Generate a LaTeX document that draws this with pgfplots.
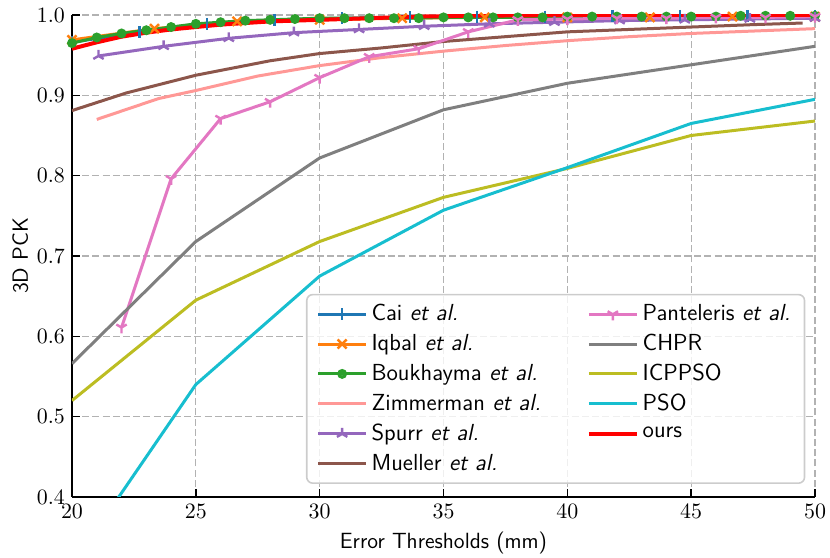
\documentclass[border=0pt]{standalone}
\usepackage{pgfplots}
\pgfplotsset{compat=1.18}
\definecolor{cCai}{HTML}{1F77B4}
\definecolor{cIqbal}{HTML}{FF7F0E}
\definecolor{cBouk}{HTML}{2CA02C}
\definecolor{cZimm}{HTML}{FF9896}
\definecolor{cSpurr}{HTML}{9467BD}
\definecolor{cMuel}{HTML}{8C564B}
\definecolor{cPant}{HTML}{E377C2}
\definecolor{cCHPR}{HTML}{7F7F7F}
\definecolor{cICP}{HTML}{BCBD22}
\definecolor{cPSO}{HTML}{17BECF}
\definecolor{cOurs}{HTML}{FF0000}
\pgfdeclareplotmark{triup}{%
  \pgfpathmoveto{\pgfpointorigin}\pgfpathlineto{\pgfpoint{0pt}{\pgfplotmarksize}}%
  \pgfpathmoveto{\pgfpointorigin}\pgfpathlineto{\pgfpoint{-0.866\pgfplotmarksize}{-0.5\pgfplotmarksize}}%
  \pgfpathmoveto{\pgfpointorigin}\pgfpathlineto{\pgfpoint{0.866\pgfplotmarksize}{-0.5\pgfplotmarksize}}%
  \pgfusepathqstroke}
\pgfdeclareplotmark{tridown}{%
  \pgfpathmoveto{\pgfpointorigin}\pgfpathlineto{\pgfpoint{0pt}{-\pgfplotmarksize}}%
  \pgfpathmoveto{\pgfpointorigin}\pgfpathlineto{\pgfpoint{-0.866\pgfplotmarksize}{0.5\pgfplotmarksize}}%
  \pgfpathmoveto{\pgfpointorigin}\pgfpathlineto{\pgfpoint{0.866\pgfplotmarksize}{0.5\pgfplotmarksize}}%
  \pgfusepathqstroke}
\pgfplotsset{
  sCai/.style={cCai, line width=1.5pt, mark=|, mark size=3pt, mark options={solid, line width=1.2pt}},
  sIqbal/.style={cIqbal, line width=1.5pt, mark=x, mark size=3.2pt, mark options={solid, line width=1.2pt}},
  sBouk/.style={cBouk, line width=1.5pt, mark=*, mark size=1.7pt, mark options={solid}},
  sZimm/.style={cZimm, line width=1.5pt, no marks},
  sSpurr/.style={cSpurr, line width=1.5pt, mark=triup, mark size=3pt, mark options={solid, line width=1.2pt}},
  sMuel/.style={cMuel, line width=1.5pt, no marks},
  sPant/.style={cPant, line width=1.5pt, mark=tridown, mark size=3pt, mark options={solid, line width=1.2pt}},
  sCHPR/.style={cCHPR, line width=1.5pt, no marks},
  sICP/.style={cICP, line width=1.5pt, no marks},
  sPSO/.style={cPSO, line width=1.5pt, no marks},
  sOurs/.style={cOurs, line width=2pt, no marks},
}
\begin{document}
\begin{tikzpicture}
\begin{axis}[
  scale only axis,
  width=371.5pt, height=241pt,
  xmin=20, xmax=50, ymin=0.4, ymax=1.0,
  xtick={20,25,30,35,40,45,50},
  ytick={0.4,0.5,0.6,0.7,0.8,0.9,1.0},
  yticklabel style={/pgf/number format/fixed, /pgf/number format/fixed zerofill, /pgf/number format/precision=1},
  tick label style={font=\fontsize{11}{13}\selectfont},
  label style={font=\fontsize{11}{13}\selectfont\sffamily},
  axis lines=left,
  axis line style={-, line width=0.9pt},
  every non boxed x axis/.append style={x axis line style=-},
  every non boxed y axis/.append style={y axis line style=-},
  tick align=inside,
  major tick length=4pt,
  tick style={black, line width=0.8pt},
  grid=major,
  major grid style={black!30, dash pattern=on 3.5pt off 1.6pt, line width=0.6pt},
  xlabel={Error Thresholds (mm)},
  ylabel={3D PCK},
  ylabel style={yshift=-2.5pt},
  legend columns=2,
  legend cell align=left,
  legend style={at={(0.987,0.027)}, anchor=south east, font=\fontsize{11.6}{13.5}\selectfont\sffamily,
    draw=black!20, line width=0.8pt, rounded corners=3pt, fill=white, fill opacity=0.8, text opacity=1,
    row sep=1.2pt, inner xsep=5pt, inner ysep=3pt,
    /tikz/every even column/.append style={column sep=21pt}},
  legend image code/.code={\draw[mark repeat=2,mark phase=2] plot coordinates {(0cm,0cm)(0.42cm,0cm)(0.84cm,0cm)};},
]
% Cai
\addplot[sCai, forget plot] coordinates {(20,0.966)(22.727,0.979)(25.455,0.989)(28.182,0.994)(30.909,0.996)(33.636,0.997)(36.364,0.998)(39.091,0.998)(41.818,0.999)(44.545,0.999)(47.273,0.999)(50,0.999)};
% Iqbal
\addplot[sIqbal, forget plot] coordinates {(20,0.969)(23.333,0.983)(26.667,0.992)(30,0.994)(33.333,0.996)(36.667,0.997)(40,0.997)(43.333,0.997)(46.667,0.998)(50,0.998)};
% Boukhayma
\addplot[sBouk, forget plot] coordinates {(20,0.965)(21,0.972)(22,0.977)(23,0.981)(24,0.985)(25,0.989)(26,0.991)(27,0.993)(28,0.994)(29,0.995)(30,0.996)(31,0.996)(32,0.996)(33,0.996)(34,0.996)(35,0.997)(36,0.997)(37,0.997)(38,0.997)(39,0.997)(40,0.998)(41,0.998)(42,0.998)(43,0.998)(44,0.998)(45,0.998)(46,0.998)(47,0.999)(48,0.999)(49,0.999)(50,0.999)};
% Zimmerman
\addplot[sZimm, forget plot] coordinates {(21,0.870)(23.5,0.896)(25,0.906)(27.5,0.924)(30,0.937)(32.5,0.947)(35,0.955)(37.5,0.962)(40,0.968)(42.5,0.973)(45,0.977)(47.5,0.980)(50,0.983)};
% Spurr
\addplot[sSpurr, forget plot] coordinates {(21.07,0.949)(23.7,0.961)(26.33,0.971)(28.96,0.978)(31.59,0.982)(34.22,0.986)(36.85,0.989)(39.48,0.991)(42.11,0.993)(44.74,0.994)(47.37,0.995)(50,0.996)};
% Mueller
\addplot[sMuel, forget plot] coordinates {(20,0.881)(22.2,0.903)(25,0.925)(28,0.943)(30,0.952)(32.5,0.959)(35,0.967)(37.5,0.973)(40,0.979)(42.5,0.982)(45,0.985)(47.5,0.988)(49.5,0.990)};
% Panteleris
\addplot[sPant, forget plot] coordinates {(22,0.611)(24,0.796)(26,0.871)(28,0.892)(30,0.922)(32,0.948)(34,0.958)(36,0.979)(38,0.994)(40,0.995)(42,0.996)(44,0.996)(46,0.997)(48,0.997)(50,0.998)};
% CHPR
\addplot[sCHPR, forget plot] coordinates {(20,0.566)(25,0.718)(30,0.822)(35,0.882)(40,0.915)(45,0.938)(50,0.961)};
% ICPPSO
\addplot[sICP, forget plot] coordinates {(20,0.520)(25,0.645)(30,0.718)(35,0.773)(40,0.809)(45,0.850)(50,0.868)};
% PSO
\addplot[sPSO, forget plot] coordinates {(20,0.315)(25,0.540)(30,0.675)(35,0.757)(40,0.810)(45,0.865)(50,0.895)};
% ours
\addplot[sOurs, forget plot] coordinates {(20,0.958)(21,0.966)(22,0.973)(23,0.978)(24,0.982)(25,0.985)(26,0.988)(27,0.990)(28,0.992)(29,0.993)(30,0.994)(32,0.996)(34,0.998)(36,0.999)(38,0.9995)(40,1.0)(45,1.0)(50,1.0)};
% legend (row-wise order to emulate column-wise layout)
\addlegendimage{sCai}\addlegendentry{Cai \textit{et al.}}
\addlegendimage{sPant}\addlegendentry{Panteleris \textit{et al.}}
\addlegendimage{sIqbal}\addlegendentry{Iqbal \textit{et al.}}
\addlegendimage{sCHPR}\addlegendentry{CHPR}
\addlegendimage{sBouk}\addlegendentry{Boukhayma \textit{et al.}}
\addlegendimage{sICP}\addlegendentry{ICPPSO}
\addlegendimage{sZimm}\addlegendentry{Zimmerman \textit{et al.}}
\addlegendimage{sPSO}\addlegendentry{PSO}
\addlegendimage{sSpurr}\addlegendentry{Spurr \textit{et al.}}
\addlegendimage{sOurs}\addlegendentry{ours}
\addlegendimage{sMuel}\addlegendentry{Mueller \textit{et al.}}
\end{axis}
\pgfresetboundingbox
\path ([shift={(-36pt,-30.5pt)}]current axis.south west) rectangle ([shift={(7.5pt,7.5pt)}]current axis.north east);
\end{tikzpicture}
\end{document}
